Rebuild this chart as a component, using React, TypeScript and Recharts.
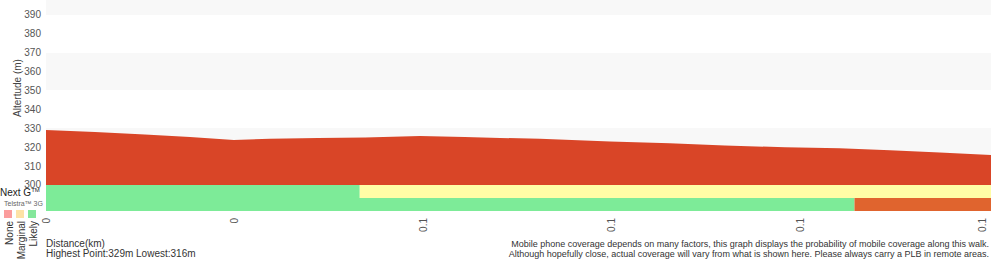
import {
  ComposedChart,
  Area,
  XAxis,
  YAxis,
  CartesianGrid,
  ReferenceArea,
} from "recharts";

// elevation profile along the walk
const distKm = [
  0, 0.0065, 0.0131, 0.0191, 0.0249, 0.0297, 0.0361, 0.0423, 0.0496, 0.0555,
  0.0602, 0.0655, 0.0748, 0.0827, 0.09, 0.098, 0.1052, 0.1119, 0.1185, 0.1253,
];
const altitudeM = [
  329.1, 328.0, 326.7, 325.4, 323.8, 324.4, 324.9, 325.1, 325.9, 325.4,
  324.9, 324.4, 323.0, 322.0, 320.9, 319.9, 319.4, 318.3, 317.2, 315.9,
];

// coverage segments (km) per network
const nextGFrom = [0, 0.0416];
const nextGTo = [0.0416, 0.1253];
const nextGLevel = ["Likely", "Marginal"];

const threeGFrom = [0, 0.1072];
const threeGTo = [0.1072, 0.1253];
const threeGLevel = ["Likely", "None"];

const xTicks = [0, 0.025, 0.05, 0.075, 0.1, 0.125];
const yTicks = [300, 310, 320, 330, 340, 350, 360, 370, 380, 390];
const legendLevels = ["None", "Marginal", "Likely"];

const highest = Math.round(Math.max(...altitudeM));
const lowest = Math.round(Math.min(...altitudeM));

const LEVEL_FILL: Record<string, string> = {
  Likely: "#7deb98",
  Marginal: "#fffda6",
  None: "#e0642e",
};
const LEGEND_FILL: Record<string, string> = {
  None: "#fb9d9d",
  Marginal: "#fde2a6",
  Likely: "#84e79b",
};

const FONT = "'Liberation Sans', Arial, Helvetica, sans-serif";
const Y_MIN = 286.2;
const Y_MAX = 397.9;
// the two coverage rows sit below the 300 m line
const ROW_SPLIT = 293.1;

const data = distKm.map((d, i) => ({ d, alt: altitudeM[i] }));

const XTick = ({ x, y, payload }: any) => (
  <text
    transform={`translate(${x},${y + 7}) rotate(-90)`}
    textAnchor="end"
    dominantBaseline="central"
    fontSize={10}
    fontFamily={FONT}
    fill="#555"
  >
    {String(Math.round(payload.value * 10) / 10)}
  </text>
);

export default function App() {
  return (
    <div style={{ position: "absolute", left: 0, top: 0, width: 1000, height: 260 }}>
      <ComposedChart
        width={1000}
        height={260}
        data={data}
        margin={{ top: 0, right: 9, bottom: 0, left: 0 }}
      >
        <CartesianGrid
          vertical={false}
          stroke="none"
          horizontalFill={["#f8f8f8", "#ffffff"]}
        />
        <XAxis
          dataKey="d"
          type="number"
          domain={[0, 0.1253]}
          ticks={xTicks}
          height={49}
          axisLine={false}
          tickLine={false}
          tickSize={0}
          tickMargin={0}
          tick={<XTick />}
          allowDataOverflow
        />
        <YAxis
          type="number"
          domain={[Y_MIN, Y_MAX]}
          ticks={yTicks}
          width={46}
          axisLine={false}
          tickLine={false}
          tickSize={0}
          tickMargin={5}
          tick={{ fontSize: 10, fill: "#555", fontFamily: FONT }}
          allowDataOverflow
        />
        <Area
          dataKey="alt"
          type="linear"
          baseValue={300}
          fill="#d94527"
          fillOpacity={1}
          stroke="none"
          isAnimationActive={false}
        />
        {nextGFrom.map((f, i) => (
          <ReferenceArea
            key={`ng${i}`}
            x1={f}
            x2={nextGTo[i]}
            y1={ROW_SPLIT}
            y2={300}
            fill={LEVEL_FILL[nextGLevel[i]]}
            fillOpacity={1}
            stroke="none"
          />
        ))}
        {threeGFrom.map((f, i) => (
          <ReferenceArea
            key={`3g${i}`}
            x1={f}
            x2={threeGTo[i]}
            y1={Y_MIN}
            y2={ROW_SPLIT}
            fill={LEVEL_FILL[threeGLevel[i]]}
            fillOpacity={1}
            stroke="none"
          />
        ))}
      </ComposedChart>

      <svg
        width={1000}
        height={260}
        style={{ position: "absolute", left: 0, top: 0, pointerEvents: "none" }}
        fontFamily={FONT}
      >
        <text
          transform="translate(17,88) rotate(-90)"
          textAnchor="middle"
          dominantBaseline="central"
          fontSize={10}
          fill="#444"
        >
          Altertude (m)
        </text>

        {/* network legend */}
        <text x={0} y={196} fontSize={10} fill="#222">
          Next G
          <tspan fontSize={6} dy={-4}>TM</tspan>
        </text>
        <text x={4} y={206} fontSize={7} fill="#666">
          Telstra™ 3G
        </text>
        {legendLevels.map((lv, i) => (
          <g key={lv}>
            <rect
              x={4 + i * 12}
              y={210}
              width={8}
              height={8}
              fill={LEGEND_FILL[lv]}
            />
            <text
              transform={`translate(${9 + i * 12},221) rotate(-90)`}
              textAnchor="end"
              dominantBaseline="central"
              fontSize={10}
              fill="#333"
            >
              {lv}
            </text>
          </g>
        ))}

        <text x={46} y={247} fontSize={10} fill="#333">
          Distance(km)
        </text>
        <text x={46} y={257} fontSize={10} fill="#333">
          Highest Point:{highest}m Lowest:{lowest}m
        </text>

        <text x={989} y={247} fontSize={9} fill="#333" textAnchor="end">
          Mobile phone coverage depends on many factors, this graph displays the
          probability of mobile coverage along this walk.
        </text>
        <text x={989} y={257} fontSize={9} fill="#333" textAnchor="end">
          Although hopefully close, actual coverage will vary from what is shown
          here. Please always carry a PLB in remote areas.
        </text>
      </svg>
    </div>
  );
}
